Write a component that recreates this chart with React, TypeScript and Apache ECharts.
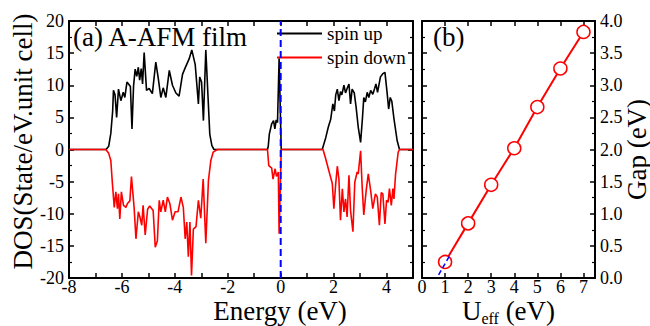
import React, { useEffect, useRef } from "react";
import * as echarts from "echarts";

// ---- Data ----
const spinUp: [number, number][] = [
  [-8, 0], [-6.6, 0], [-6.5, 0.5], [-6.42, 2.5], [-6.35, 6], [-6.32, 9.2], [-6.26, 8.5], [-6.2, 5.0],
  [-6.13, 9.4], [-6.04, 7.6], [-5.95, 8.9], [-5.89, 8.1], [-5.81, 10.5], [-5.75, 10.2], [-5.68, 9.8],
  [-5.62, 3.2], [-5.56, 9.9], [-5.5, 12.5], [-5.44, 11.4], [-5.38, 12.8], [-5.33, 10.8], [-5.27, 12.6],
  [-5.22, 10.2], [-5.16, 15.1], [-5.07, 9.2], [-4.97, 9.5], [-4.85, 8.7], [-4.72, 13.6], [-4.63, 11.2],
  [-4.53, 8.1], [-4.44, 9.6], [-4.34, 8.1], [-4.21, 12.3], [-4.09, 10.0], [-3.96, 8.8], [-3.84, 8.3],
  [-3.71, 11.7], [-3.61, 12.7], [-3.46, 14.1], [-3.36, 15.5], [-3.23, 13.2], [-3.11, 7.1], [-3.06, 11.3],
  [-2.99, 10.5], [-2.92, 4.5], [-2.83, 15.5], [-2.68, 2.4], [-2.6, 0.6], [-2.52, 0],
  [-0.5, 0], [-0.47, 0.5], [-0.43, 2.4], [-0.34, 4.0], [-0.27, 4.5], [-0.22, 3.2], [-0.17, 4.6],
  [-0.12, 4.2], [-0.06, 14.2], [0.02, 0],
  [1.57, 0], [1.7, 1.8], [1.8, 3.5], [1.89, 4.7], [1.97, 7.1], [2.03, 6.0], [2.08, 8.5], [2.14, 9.4],
  [2.2, 7.6], [2.26, 9.0], [2.31, 8.5], [2.39, 10.0], [2.45, 8.8], [2.52, 9.6], [2.58, 10.2], [2.64, 7.1],
  [2.7, 9.4], [2.78, 8.8], [2.85, 6.6], [2.93, 3.5], [3.02, 1.1], [3.09, 4.9], [3.14, 8.1], [3.2, 7.4],
  [3.27, 8.9], [3.33, 8.1], [3.4, 9.2], [3.48, 8.6], [3.55, 9.5], [3.6, 10.2], [3.66, 8.9], [3.77, 11.3],
  [3.86, 11.8], [3.94, 12.0], [4.02, 8.9], [4.08, 6.3], [4.14, 8.1], [4.2, 7.5], [4.28, 4.8], [4.4, 1.4],
  [4.49, 0], [5, 0],
];

const spinDown: [number, number][] = [
  [-8, 0], [-6.61, 0], [-6.5, -0.6], [-6.42, -1.7], [-6.36, -5.3], [-6.29, -9.0], [-6.23, -6.6],
  [-6.17, -9.2], [-6.13, -6.9], [-6.08, -10.8], [-6.02, -6.6], [-5.94, -8.7], [-5.85, -9.0], [-5.79, -8.4],
  [-5.7, -8.0], [-5.64, -4.2], [-5.54, -9.0], [-5.47, -13.9], [-5.38, -9.7], [-5.32, -10.5], [-5.25, -11.8],
  [-5.2, -8.7], [-5.12, -13.3], [-5.03, -9.3], [-4.95, -8.8], [-4.82, -9.5], [-4.74, -15.2], [-4.66, -14.2],
  [-4.59, -7.9], [-4.53, -9.7], [-4.44, -7.9], [-4.36, -9.7], [-4.28, -7.4], [-4.19, -8.4], [-4.09, -11.0],
  [-3.99, -9.7], [-3.88, -9.7], [-3.77, -7.4], [-3.68, -9.0], [-3.61, -13.9], [-3.55, -11.3], [-3.49, -16.7],
  [-3.43, -11.3], [-3.37, -19.6], [-3.3, -12.4], [-3.2, -12.0], [-3.11, -7.9], [-3.02, -10.7], [-2.93, -4.6],
  [-2.83, -14.6], [-2.73, -4.8], [-2.64, -1.7], [-2.55, -0.4], [-2.39, 0],
  [-0.5, 0], [-0.45, -2.5], [-0.34, -2.9], [-0.29, -4.6], [-0.21, -3.0], [-0.16, -4.2], [-0.09, -3.5],
  [-0.06, -13.1], [0.02, 0],
  [1.6, 0], [1.7, -1.45], [1.82, -3.3], [1.95, -5.3], [2.01, -9.2], [2.08, -5.3], [2.14, -2.6], [2.2, -4.6],
  [2.26, -11.0], [2.33, -6.1], [2.39, -9.7], [2.45, -7.7], [2.51, -10.5], [2.58, -4.0], [2.64, -9.5],
  [2.73, -12.8], [2.8, -5.1], [2.89, -3.5], [2.93, -3.8], [3.02, -0.2], [3.08, -5.9], [3.14, -10.2],
  [3.23, -6.4], [3.31, -3.8], [3.4, -6.4], [3.48, -9.2], [3.58, -6.9], [3.65, -7.4], [3.73, -11.8],
  [3.8, -6.7], [3.86, -6.9], [3.94, -11.6], [4.0, -7.9], [4.06, -8.2], [4.11, -6.1], [4.18, -8.7],
  [4.24, -6.1], [4.28, -7.7], [4.34, -3.9], [4.44, -0.4], [4.49, 0], [5, 0],
];

const fermiLevel = 0;
const dosRange = [-20, 20];

const uEff = [1, 2, 3, 4, 5, 6, 7];
const gapValues = [0.25, 0.85, 1.45, 2.02, 2.66, 3.26, 3.83];
const fitU = [0.72, 1.25];
const fitGap = [0.05, 0.38];

const legendNames = ["spin up", "spin down"];

const FONT = "Liberation Serif";

export default function App() {
  const ref = useRef<HTMLDivElement>(null);

  useEffect(() => {
    document.body.style.margin = "0";
    if (!ref.current) return;
    const chart = echarts.init(ref.current, null, { renderer: "svg" });

    const axisLine = { show: true, onZero: false, lineStyle: { color: "#000", width: 2 } };
    const tick = { show: true, inside: true, length: 5, lineStyle: { color: "#000", width: 1.5 } };
    const minor = { show: true, splitNumber: 2, length: 3, lineStyle: { color: "#000", width: 1.2 } };
    const label = { color: "#000", fontSize: 18, fontFamily: FONT };

    const option: any = {
      animation: false,
      backgroundColor: "#fff",
      textStyle: { fontFamily: FONT },
      title: [
        {
          text: "(a) A-AFM film",
          left: 73,
          top: 23,
          padding: 0,
          textStyle: { fontSize: 27, fontWeight: "normal", fontFamily: FONT, color: "#000" },
        },
        {
          text: "(b)",
          left: 433,
          top: 23,
          padding: 0,
          textStyle: { fontSize: 27, fontWeight: "normal", fontFamily: FONT, color: "#000" },
        },
      ],
      legend: {
        data: legendNames,
        orient: "vertical",
        left: 277,
        top: 24,
        padding: 0,
        itemGap: 5,
        icon: "rect",
        itemWidth: 45,
        itemHeight: 2,
        textStyle: { fontSize: 19, fontFamily: FONT, color: "#000", lineHeight: 19 },
      },
      grid: [
        { left: 69, top: 21, width: 344, height: 257, outerBoundsMode: "none", containLabel: false },
        { left: 422, top: 21, width: 173, height: 257, outerBoundsMode: "none", containLabel: false },
      ],
      xAxis: [
        {
          type: "value", gridIndex: 0, position: "bottom", min: -8, max: 5, interval: 1,
          axisLine, axisTick: tick, splitLine: { show: false },
          axisLabel: { ...label, margin: 3, lineHeight: 12, formatter: (v: number) => (v % 2 === 0 && v < 5 ? String(v) : "") },
          name: "Energy (eV)", nameLocation: "middle", nameGap: 19, nameMoveOverlap: false,
          nameTextStyle: { fontSize: 27, fontFamily: FONT, color: "#000", padding: [0, 0, 0, 78] },
        },
        {
          type: "value", gridIndex: 0, position: "top", min: -8, max: 5, interval: 1,
          axisLine, axisTick: tick, axisLabel: { show: false }, splitLine: { show: false },
        },
        {
          type: "value", gridIndex: 1, position: "bottom", min: 0, max: 7.5, interval: 1,
          axisLine, axisTick: tick, splitLine: { show: false },
          axisLabel: { ...label, margin: 3, lineHeight: 12, formatter: (v: number) => (Number.isInteger(v) ? String(v) : "") },
          name: "{m|U}{s|eff}{m| (eV)}", nameLocation: "middle", nameGap: 19, nameMoveOverlap: false,
          nameTextStyle: {
            fontFamily: FONT, color: "#000",
            rich: {
              m: { fontSize: 27, lineHeight: 24, fontFamily: FONT, color: "#000", verticalAlign: "top" },
              s: { fontSize: 16, lineHeight: 16, fontFamily: FONT, color: "#000", verticalAlign: "top", padding: [13, 0, 0, 0] },
            },
          },
        },
        {
          type: "value", gridIndex: 1, position: "top", min: 0, max: 7.5, interval: 1,
          axisLine, axisTick: tick, axisLabel: { show: false }, splitLine: { show: false },
        },
      ],
      yAxis: [
        {
          type: "value", gridIndex: 0, position: "left", min: dosRange[0], max: dosRange[1], interval: 5,
          axisLine, axisTick: tick, minorTick: minor, splitLine: { show: false },
          axisLabel: { ...label, margin: 5 },
          name: "DOS(State/eV.unit cell)", nameLocation: "middle", nameGap: 33, nameRotate: 90,
          nameMoveOverlap: false,
          nameTextStyle: { fontSize: 27, fontFamily: FONT, color: "#000", padding: [0, 0, 0, 16] },
        },
        {
          type: "value", gridIndex: 0, position: "right", min: dosRange[0], max: dosRange[1], interval: 5,
          axisLine, axisTick: tick, minorTick: minor, axisLabel: { show: false }, splitLine: { show: false },
        },
        {
          type: "value", gridIndex: 1, position: "right", min: 0, max: 4, interval: 0.5,
          axisLine, axisTick: tick, minorTick: minor, splitLine: { show: false },
          axisLabel: { ...label, margin: 5, formatter: (v: number) => v.toFixed(1) },
          name: "Gap (eV)", nameLocation: "middle", nameGap: 28, nameRotate: 90, nameMoveOverlap: false,
          nameTextStyle: { fontSize: 27, fontFamily: FONT, color: "#000" },
        },
        {
          type: "value", gridIndex: 1, position: "left", min: 0, max: 4, interval: 0.5,
          axisLine, axisTick: tick, minorTick: minor, axisLabel: { show: false }, splitLine: { show: false },
        },
      ],
      series: [
        {
          name: "spin up", type: "line", xAxisIndex: 0, yAxisIndex: 0, data: spinUp,
          symbol: "none", color: "#000", lineStyle: { color: "#000", width: 1.6 }, z: 2,
        },
        {
          name: "spin down", type: "line", xAxisIndex: 0, yAxisIndex: 0, data: spinDown,
          symbol: "none", color: "#ff0000", lineStyle: { color: "#ff0000", width: 1.6 }, z: 3,
        },
        {
          name: "Fermi level", type: "line", xAxisIndex: 0, yAxisIndex: 0,
          data: [[fermiLevel, dosRange[0]], [fermiLevel, dosRange[1]]],
          symbol: "none", lineStyle: { color: "#0000ff", width: 2, type: [7, 4] }, z: 4,
        },
        {
          name: "gap", type: "line", xAxisIndex: 2, yAxisIndex: 2,
          data: uEff.map((u, i) => [u, gapValues[i]]),
          symbol: "circle", symbolSize: 13, showSymbol: true,
          lineStyle: { color: "#ff0000", width: 2 },
          itemStyle: { color: "#fff", borderColor: "#ff0000", borderWidth: 1.5 },
          z: 3,
        },
        {
          name: "fit", type: "line", xAxisIndex: 2, yAxisIndex: 2,
          data: fitU.map((u, i) => [u, fitGap[i]]),
          symbol: "none", lineStyle: { color: "#0000ff", width: 1.5, type: [5, 3] }, z: 4,
        },
      ],
    };

    chart.setOption(option);
    return () => chart.dispose();
  }, []);

  return <div ref={ref} style={{ width: 650, height: 326 }} />;
}
